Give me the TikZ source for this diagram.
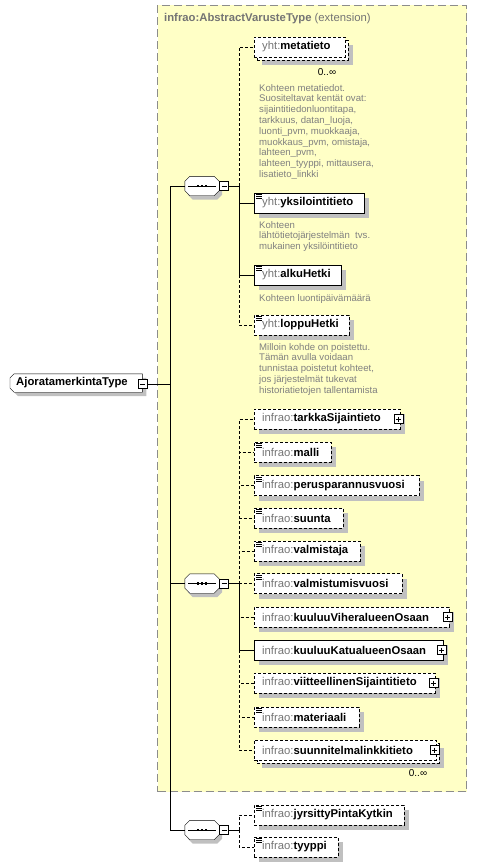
\documentclass[tikz,border=0pt]{standalone}
\usepackage{fontspec}
\setmainfont{Liberation Sans}
\usetikzlibrary{shadows}
\definecolor{extfill}{HTML}{FFFFC6}
\definecolor{extborder}{HTML}{8C8C8C}
\definecolor{shadowgray}{HTML}{C0C0C0}
\definecolor{pregray}{HTML}{747474}
\definecolor{descgray}{HTML}{808080}
\pgfdeclarelayer{bottom}
\pgfdeclarelayer{back}
\pgfsetlayers{bottom,back,main}
\newcommand\pre[1]{\textcolor{pregray}{\mdseries #1}}
\newcommand\simpleicon[1]{\foreach \d in {2,4,6}{\draw[line width=0.8pt] ([xshift=2pt,yshift=-\d pt]#1.north west) -- ++(6,0);}}
\newcommand\seqdots[1]{\draw[line width=0.9pt] ([xshift=3.5pt]#1.west) -- ([xshift=-3.5pt]#1.east);
  \foreach \dx in {-4,0,4}{\fill ([xshift=\dx pt]#1.center) ++(-1.4,-1.4) rectangle ++(2.8,2.8);}}
\newcommand\octpath[2]{([shift={#2},xshift=5pt]#1.north west) -- ([shift={#2},xshift=-5pt]#1.north east) -- ([shift={#2},yshift=-5pt]#1.north east) -- ([shift={#2},yshift=5pt]#1.south east) -- ([shift={#2},xshift=-5pt]#1.south east) -- ([shift={#2},xshift=5pt]#1.south west) -- ([shift={#2},yshift=5pt]#1.south west) -- ([shift={#2},yshift=-5pt]#1.north west) -- cycle}
\newcommand\octshape[1]{\begin{pgfonlayer}{back}\fill[shadowgray] \octpath{#1}{(3,4)}; \filldraw[fill=white] \octpath{#1}{(0,0)};\end{pgfonlayer}}
\newcommand\rootpath[2]{([shift={#2},xshift=4pt]#1.north west) -- ([shift={#2}]#1.north east) -- ([shift={#2}]#1.south east) -- ([shift={#2},xshift=4pt]#1.south west) -- ([shift={#2},yshift=4pt]#1.south west) -- ([shift={#2},yshift=-4pt]#1.north west) -- cycle}
\begin{document}
\begin{tikzpicture}[x=1pt,y=-1pt,line width=0.9pt,
  sh/.style={drop shadow={shadow xshift=5pt,shadow yshift=-5pt,fill=shadowgray,opacity=1}},
  elembase/.style={draw,fill=white,minimum height=20pt,inner xsep=8pt,inner ysep=0pt,anchor=west,align=left,
    font=\fontsize{11.3}{13}\selectfont\bfseries},
  elem/.style={elembase,sh},
  opt/.style={dash pattern=on 3pt off 2pt},
  pm/.style={draw,fill=white,minimum size=9pt,inner sep=0pt,line width=0.8pt},
  minus/.style={pm,path picture={\draw[line width=0.8pt] ([xshift=2pt]path picture bounding box.west) -- ([xshift=-2pt]path picture bounding box.east);}},
  plus/.style={pm,path picture={\draw[line width=0.8pt] ([xshift=2pt]path picture bounding box.west) -- ([xshift=-2pt]path picture bounding box.east);
     \draw[line width=0.8pt] ([yshift=-2pt]path picture bounding box.north) -- ([yshift=2pt]path picture bounding box.south);}},
  seqbox/.style={rectangle,minimum width=34pt,minimum height=19pt,inner sep=0pt},
  desc/.style={anchor=north west,inner sep=0pt,align=left,text=descgray,font=\fontsize{9.6}{10.8}\selectfont},
  mult/.style={inner sep=0pt,font=\fontsize{10}{12}\selectfont},
  extbox/.style={draw=extborder,fill=extfill,dash pattern=on 8pt off 4pt,line width=1pt,inner sep=0pt}
]
\useasboundingbox (0,0) rectangle (477,867);
% extension box
\begin{pgfonlayer}{bottom}
\node[extbox,anchor=north west,minimum width=309pt,minimum height=786pt] (ext) at (157,5) {};
\end{pgfonlayer}
\node[anchor=west,inner sep=0pt,text=pregray,font=\fontsize{11.3}{13}\selectfont] (title) at (164,19)
  {\textbf{infrao:AbstractVarusteType} (extension)};

% root
\node[anchor=west,minimum height=18pt,inner xsep=6pt,inner ysep=0pt,text width=120pt,align=left,
  font=\fontsize{11.3}{13}\selectfont\bfseries] (root) at (10,383) {AjoratamerkintaType};
\begin{pgfonlayer}{back}
\fill[shadowgray] \rootpath{root}{(4,4)};
\filldraw[fill=white] \rootpath{root}{(0,0)};
\end{pgfonlayer}
\node[minus] (rootm) at (142.5,384) {};
\coordinate (tk) at (170,384);

% sequences
\node[seqbox] (seq1) at (202,186) {};
\octshape{seq1}
\seqdots{seq1}
\node[minus] (seq1m) at (224,186) {};
\coordinate (b1) at (239,186);
\node[seqbox] (seq2) at (202,583.5) {};
\octshape{seq2}
\seqdots{seq2}
\node[minus] (seq2m) at (224,583.5) {};
\coordinate (b2) at (239,583.5);
\node[seqbox] (seq3) at (202,830) {};
\octshape{seq3}
\seqdots{seq3}
\node[minus] (seq3m) at (224,830) {};
\coordinate (b3) at (239,830);

% sequence 1 children
\node[elem,opt,text width=75pt] (metaback) at (257,50) {};
\node[elembase,opt,text width=75pt] (metatieto) at (254,47) {\pre{yht:}metatieto};
\node[mult] (metam) at (327,72) {0..∞};
\node[desc] (metad) at (259,84) {Kohteen metatiedot.\\Suositeltavat kentät ovat:\\sijaintitiedonluontitapa,\\tarkkuus, datan\_luoja,\\luonti\_pvm, muokkaaja,\\muokkaus\_pvm, omistaja,\\lahteen\_pvm,\\lahteen\_tyyppi, mittausera,\\lisatieto\_linkki};

\node[elem,text width=94pt] (yksil) at (254,203) {\pre{yht:}yksilointitieto};
\simpleicon{yksil}
\node[desc] (yksild) at (259,221) {Kohteen\\lähtötietojärjestelmän\ \ tvs.\\mukainen yksilöintitieto};

\node[elem,text width=71pt] (alku) at (254,275) {\pre{yht:}alkuHetki};
\simpleicon{alku}
\node[desc] (alkud) at (259,294) {Kohteen luontipäivämäärä};

\node[elem,opt,text width=79pt] (loppu) at (254,325) {\pre{yht:}loppuHetki};
\simpleicon{loppu}
\node[desc] (loppud) at (259,343) {Milloin kohde on poistettu.\\Tämän avulla voidaan\\tunnistaa poistetut kohteet,\\jos järjestelmät tukevat\\historiatietojen tallentamista};

% sequence 2 children
\node[elem,opt,text width=130pt] (tarkka) at (254,419) {\pre{infrao:}tarkkaSijaintieto};
\node[plus] (tarkkap) at ([xshift=-2pt]tarkka.east) {};
\node[elem,opt,text width=61pt] (malli) at (254,452) {\pre{infrao:}malli};
\simpleicon{malli}
\node[elem,opt,text width=149pt] (perus) at (254,485.5) {\pre{infrao:}perusparannusvuosi};
\simpleicon{perus}
\node[elem,opt,text width=73pt] (suunta) at (254,518) {\pre{infrao:}suunta};
\simpleicon{suunta}
\node[elem,opt,text width=90pt] (valmistaja) at (254,551) {\pre{infrao:}valmistaja};
\simpleicon{valmistaja}
\node[elem,opt,text width=132pt] (valmvuosi) at (254,583.5) {\pre{infrao:}valmistumisvuosi};
\simpleicon{valmvuosi}
\node[elem,opt,text width=179pt] (vihera) at (254,617) {\pre{infrao:}kuuluuViheralueenOsaan};
\node[plus] (viherap) at ([xshift=-2pt]vihera.east) {};
\node[elem,text width=173pt] (katu) at (254,650) {\pre{infrao:}kuuluuKatualueenOsaan};
\node[plus] (katup) at ([xshift=-2pt]katu.east) {};
\node[elem,opt,text width=165pt] (viite) at (254,683) {\pre{infrao:}viitteellinenSijaintitieto};
\node[plus] (viitep) at ([xshift=-2pt]viite.east) {};
\node[elem,opt,text width=89pt] (materiaali) at (254,717) {\pre{infrao:}materiaali};
\simpleicon{materiaali}
\node[elem,opt,text width=166pt] (suunnback) at (257,753) {};
\node[elembase,opt,text width=166pt] (suunn) at (254,750) {\pre{infrao:}suunnitelmalinkkitieto};
\node[plus] (suunnp) at ([xshift=-2pt]suunn.east) {};
\node[mult] (suunnm) at (418,773) {0..∞};

% sequence 3 children
\node[elem,opt,text width=134pt] (jyrs) at (254,815) {\pre{infrao:}jyrsittyPintaKytkin};
\simpleicon{jyrs}
\node[elem,opt,text width=68pt] (tyyppi) at (254,847) {\pre{infrao:}tyyppi};
\simpleicon{tyyppi}

% connectors: trunk
\draw (rootm.east) -- (tk);
\draw (seq1.west) -| (tk);
\draw (seq2.west) -| (tk);
\draw (seq3.west) -| (tk);
% sequence 1
\draw (seq1m.east) -- (b1);
\draw[opt] (b1) |- (metatieto.west);
\draw (b1) |- (yksil.west);
\draw (b1) |- (alku.west);
\draw[opt] (b1 |- alku.west) |- (loppu.west);
% sequence 2
\draw (seq2m.east) -- (b2);
\draw[opt] (b2) |- (tarkka.west);
\draw[opt] (b2) |- (malli.west);
\draw[opt] (b2) |- (perus.west);
\draw[opt] (b2) |- (suunta.west);
\draw[opt] (b2) |- (valmistaja.west);
\draw[opt] (b2) -- (valmvuosi.west);
\draw[opt] (b2) |- (vihera.west);
\draw (b2) |- (katu.west);
\draw[opt] (b2 |- katu.west) |- (viite.west);
\draw[opt] (b2 |- katu.west) |- (materiaali.west);
\draw[opt] (b2 |- katu.west) |- (suunn.west);
% sequence 3
\draw (seq3m.east) -- (b3);
\draw[opt] (b3) |- (jyrs.west);
\draw[opt] (b3) |- (tyyppi.west);
\end{tikzpicture}
\end{document}
